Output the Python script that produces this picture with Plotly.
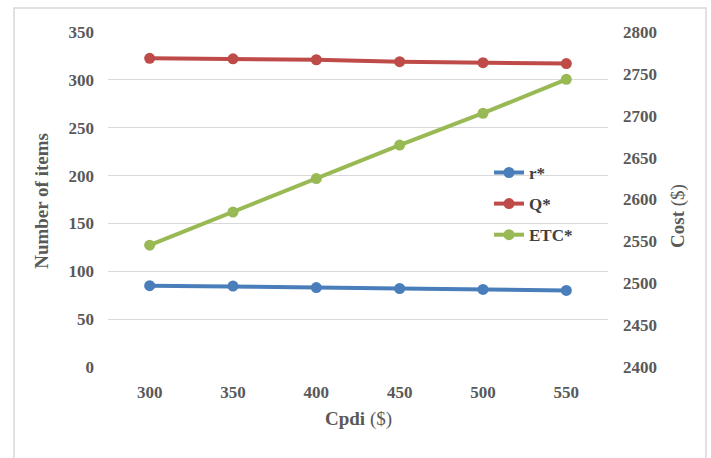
import plotly.graph_objects as go

# Cpdi values ($) on the category axis
cpdi = [300, 350, 400, 450, 500, 550]
# Reorder point and order quantity (number of items)
r_star = [85, 84.5, 83, 82, 81, 80]
q_star = [322.5, 322, 321, 319, 318, 317]
# Expected total cost ($), right axis
etc_star = [2545.5, 2585, 2625, 2665, 2703, 2743.5]

left_ticks = [0, 50, 100, 150, 200, 250, 300, 350]
right_ticks = [2400, 2450, 2500, 2550, 2600, 2650, 2700, 2750, 2800]

BLUE = "#4a7ebb"
RED = "#be4b48"
GREEN = "#98b954"
GRAY = "#595959"
TICK_FONT = dict(family="Liberation Serif", size=17, color=GRAY)

fig = go.Figure()
series = [("r*", r_star, BLUE, "y"), ("Q*", q_star, RED, "y"), ("ETC*", etc_star, GREEN, "y2")]
for name, vals, color, axis in series:
    fig.add_trace(go.Scatter(
        x=[str(c) for c in cpdi], y=vals, name=f"<b>{name}</b>", yaxis=axis,
        mode="lines+markers", legendgroup=name,
        line=dict(color=color, width=4),
        marker=dict(color=color, size=11),
    ))

fig.update_layout(
    width=711, height=458,
    margin=dict(l=108, r=103, t=32, b=91),
    paper_bgcolor="white", plot_bgcolor="white",
    showlegend=True,
    legend=dict(x=0.762, y=0.633, xanchor="left", yanchor="top",
                bgcolor="rgba(0,0,0,0)", tracegroupgap=6,
                font=dict(family="Liberation Serif", size=17, color="#404040")),
    xaxis=dict(type="category", range=[-0.5, 5.5], showgrid=False,
               showline=False, ticks="", tickfont=TICK_FONT,
               tickvals=[str(c) for c in cpdi],
               ticktext=[f"<b>{c}</b>" for c in cpdi],
               ticklabelstandoff=13),
    yaxis=dict(range=[0, 350], tickvals=left_ticks,
               ticktext=[f"<b>{t}</b>" for t in left_ticks],
               showgrid=True, gridcolor="#d9d9d9", gridwidth=1.3,
               zeroline=False, showline=False, ticks="", tickfont=TICK_FONT,
               ticklabelstandoff=13),
    yaxis2=dict(range=[2400, 2800], tickvals=right_ticks,
                ticktext=[f"<b>{t}</b>" for t in right_ticks],
                overlaying="y", side="right", showgrid=False, zeroline=False,
                showline=False, ticks="", tickfont=TICK_FONT,
                ticklabelstandoff=14),
    font=dict(family="Liberation Serif"),
)

# Axis titles
title_font = dict(family="Liberation Serif", size=19, color=GRAY)
fig.add_annotation(text="<b>Number of items</b>", xref="paper", yref="paper",
                   x=-0.132, y=0.496, xanchor="center", yanchor="middle",
                   textangle=-90, showarrow=False, font=title_font)
fig.add_annotation(text="<b>Cost</b> ($)", xref="paper", yref="paper",
                   x=1.14, y=0.451, xanchor="center", yanchor="middle",
                   textangle=-90, showarrow=False, font=title_font)
fig.add_annotation(text="<b>Cpdi</b> ($)", xref="paper", yref="paper",
                   x=0.5, y=-0.155, xanchor="center", yanchor="middle",
                   showarrow=False, font=title_font)

# Chart frame
fig.add_shape(type="rect", xref="paper", yref="paper",
              x0=-0.188, x1=1.196, y0=-0.285, y1=1.0716,
              line=dict(color="#d9d9d9", width=1.5), fillcolor="rgba(0,0,0,0)",
              layer="below")

fig.write_html("out.html")
